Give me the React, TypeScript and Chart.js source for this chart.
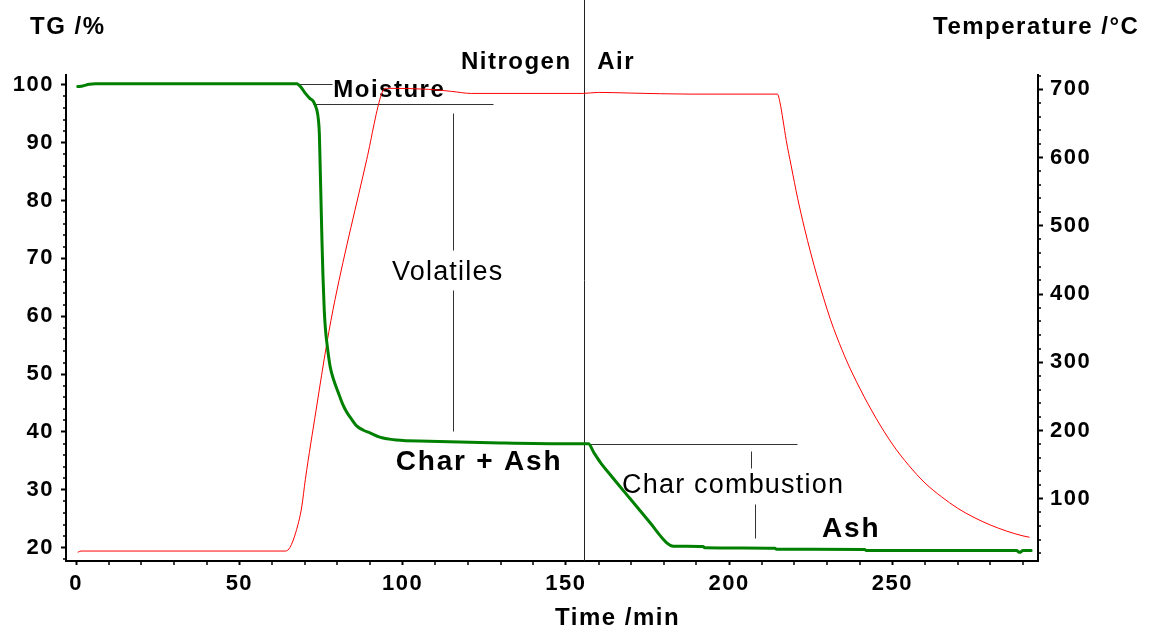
import React, { useEffect, useRef } from 'react';
import { Chart, registerables } from 'chart.js';

Chart.register(...registerables);

// ---- Data ----
const TG_TIME = [
  0.5, 2, 4, 6, 62, 67.6, 69, 70.1, 71.5, 72.7, 73.7, 74.2, 74.5, 74.7, 75.0, 75.3, 75.6, 76.0,
  76.4, 76.8, 77.8, 79, 80.3, 81.5, 82.9, 84.5, 86, 88, 90, 93, 98, 108, 130, 151, 156.9, 158.5,
  160.5, 163.6, 169.7, 175.8, 180.9, 182.9, 192, 192.5, 214, 214.5, 241.5, 242, 288, 289, 290, 292.5,
];
const TG_VALUES = [
  99.7, 99.8, 100.1, 100.2, 100.2, 100.2, 99.5, 98.6, 97.7, 97.1, 95.7, 94, 91.5, 87, 80, 73, 67, 61,
  57.5, 55.4, 51.3, 48.8, 46.8, 45, 43.4, 42.1, 41.0, 40.3, 39.85, 39.1, 38.6, 38.4, 38.1, 37.95, 37.95, 36.5,
  34.8, 32.6, 28.45, 24.3, 20.85, 20.27, 20.2, 20.0, 19.9, 19.75, 19.7, 19.5, 19.5, 19.2, 19.5, 19.5,
];

const TEMP_TIME = [
  0.5, 1.5, 64.2, 65.5, 67.3, 69.1, 70.2, 73.5, 76.8, 79.3, 89, 93.6, 95, 108, 115, 121, 155, 160, 170,
  188, 214.8, 215.6, 216.5, 217.5, 219, 221, 223, 225, 227, 229, 231, 233, 236, 240, 245, 250, 255,
  260, 265, 270, 275, 280, 285, 290, 292,
];
const TEMP_VALUES = [
  21.5, 23.3, 23.3, 28.7, 51, 88, 128, 230, 328, 392, 597, 694, 701.5, 700, 697, 694, 694, 695.5, 694.5,
  693, 693, 680, 655, 625, 588, 540, 498, 460, 425, 393, 363, 337, 302, 262, 218, 180, 149,
  123, 103, 86, 72.5, 61.5, 52.5, 45.5, 43.5,
];

const X_MAJOR_TICKS = [0, 50, 100, 150, 200, 250];
const X_MINOR_TICKS = [10, 20, 30, 40, 60, 70, 80, 90, 110, 120, 130, 140, 160, 170, 180, 190, 210, 220, 230, 240, 260, 270, 280, 290];
const TG_MAJOR_TICKS = [20, 30, 40, 50, 60, 70, 80, 90, 100];
const TG_MINOR_TICKS = [18, 22, 24, 26, 28, 32, 34, 36, 38, 42, 44, 46, 48, 52, 54, 56, 58, 62, 64, 66, 68, 72, 74, 76, 78, 82, 84, 86, 88, 92, 94, 96, 98];
const TEMP_MAJOR_TICKS = [100, 200, 300, 400, 500, 600, 700];
const TEMP_MINOR_TICKS = [20, 40, 60, 80, 120, 140, 160, 180, 220, 240, 260, 280, 320, 340, 360, 380, 420, 440, 460, 480, 520, 540, 560, 580, 620, 640, 660, 680, 720];

const X_RANGE = [-3.1, 294.6];
const TG_RANGE = [17.7, 101.7];
const TEMP_RANGE = [8.7, 721];

const GAS_SWITCH_TIME = 155.4;

const X_TITLE = 'Time /min';
const TG_TITLE = 'TG /%';
const TEMP_TITLE = 'Temperature /°C';

// annotation segments in data units [t1, v1, t2, v2] (TG axis)
const ANNOT_LINES = [
  [67.5, 100.2, 78.4, 100.2],
  [72.7, 96.7, 127.8, 96.7],
  [115.3, 95.2, 115.3, 71.5],
  [115.3, 64.6, 115.3, 40.1],
  [155.4, 37.95, 220.7, 37.95],
  [206.6, 36.7, 206.6, 33.8],
  [207.8, 27.5, 207.8, 21.7],
];
// annotation labels [text, t, v(baseline), style]
const ANNOT_TEXTS: [string, number, number, string][] = [
  ['Nitrogen', 134.8, 102.7, 'bold'],
  ['Air', 165.4, 102.7, 'bold'],
  ['Moisture', 95.9, 97.9, 'bold'],
  ['Volatiles', 113.8, 66.3, 'regular'],
  ['Char + Ash', 123.4, 33.5, 'big'],
  ['Char combustion', 201.2, 29.5, 'regular'],
  ['Ash', 237.4, 21.8, 'big'],
];

const FAMILY = '"Liberation Sans", Arial, sans-serif';

const STYLE_FONTS: Record<string, [string, number]> = {
  bold: [`bold 24px ${FAMILY}`, 1.5],
  regular: [`27px ${FAMILY}`, 1.2],
  big: [`bold 28px ${FAMILY}`, 1.8],
};

function drawText(ctx: any, str: string, x: number, y: number, font: string, spacing: number, align: string) {
  ctx.save();
  ctx.font = font;
  ctx.letterSpacing = spacing + 'px';
  ctx.textAlign = align;
  ctx.textBaseline = 'alphabetic';
  ctx.fillStyle = '#000';
  ctx.fillText(str, x, y);
  ctx.restore();
}

const decorPlugin = {
  id: 'decor',
  beforeDraw(chart: any) {
    chart.ctx.letterSpacing = '1.5px';
  },
  beforeDatasetsDraw(chart: any) {
    const ctx = chart.ctx;
    const xs = chart.scales.x;
    const ys = chart.scales.y;
    ctx.save();
    ctx.strokeStyle = '#333';
    ctx.lineWidth = 1;
    for (const [t1, v1, t2, v2] of ANNOT_LINES) {
      ctx.beginPath();
      ctx.moveTo(Math.round(xs.getPixelForValue(t1)) + 0.5, Math.round(ys.getPixelForValue(v1)) + 0.5);
      ctx.lineTo(Math.round(xs.getPixelForValue(t2)) + 0.5, Math.round(ys.getPixelForValue(v2)) + 0.5);
      ctx.stroke();
    }
    // gas switch line
    const gx = Math.round(xs.getPixelForValue(GAS_SWITCH_TIME)) + 0.5;
    ctx.strokeStyle = '#222';
    ctx.beginPath();
    ctx.moveTo(gx, 0);
    ctx.lineTo(gx, chart.chartArea.bottom);
    ctx.stroke();
    ctx.restore();
    for (const [str, t, v, style] of ANNOT_TEXTS) {
      const [font, sp] = STYLE_FONTS[style];
      drawText(ctx, str, xs.getPixelForValue(t), ys.getPixelForValue(v), font, sp, 'center');
    }
  },
  afterDraw(chart: any) {
    const ctx = chart.ctx;
    const xs = chart.scales.x;
    const ys = chart.scales.y;
    const y2 = chart.scales.y2;
    const area = chart.chartArea;
    ctx.save();
    ctx.strokeStyle = '#000';
    ctx.lineWidth = 1.5;
    ctx.beginPath();
    for (const t of X_MINOR_TICKS) {
      const px = Math.round(xs.getPixelForValue(t));
      ctx.moveTo(px, area.bottom);
      ctx.lineTo(px, area.bottom + 4);
    }
    for (const v of TG_MINOR_TICKS) {
      const py = Math.round(ys.getPixelForValue(v));
      ctx.moveTo(area.left, py);
      ctx.lineTo(area.left - 3, py);
    }
    for (const v of TEMP_MINOR_TICKS) {
      const py = Math.round(y2.getPixelForValue(v));
      ctx.moveTo(area.right, py);
      ctx.lineTo(area.right + 3, py);
    }
    ctx.stroke();
    ctx.restore();
    const titleFont = `bold 24px ${FAMILY}`;
    drawText(ctx, TG_TITLE, 30, 34, titleFont, 1.5, 'left');
    drawText(ctx, TEMP_TITLE, 933, 34, titleFont, 1.5, 'left');
    drawText(ctx, X_TITLE, 555, 625, titleFont, 1.5, 'left');
  },
};

export default function App() {
  const canvasRef = useRef<HTMLCanvasElement | null>(null);

  useEffect(() => {
    const canvas = canvasRef.current;
    if (!canvas) return;
    const tickFont = { family: FAMILY, size: 22, weight: 'bold' as const };
    const chart = new Chart(canvas, {
      type: 'line',
      data: {
        datasets: [
          {
            label: 'TG',
            data: TG_TIME.map((t, i) => ({ x: t, y: TG_VALUES[i] })),
            borderColor: '#008000',
            borderWidth: 3,
            borderJoinStyle: 'round',
            borderCapStyle: 'round',
            pointRadius: 0,
            cubicInterpolationMode: 'monotone',
            yAxisID: 'y',
          },
          {
            label: 'Temperature',
            data: TEMP_TIME.map((t, i) => ({ x: t, y: TEMP_VALUES[i] })),
            borderColor: '#ff0000',
            borderWidth: 1,
            pointRadius: 0,
            cubicInterpolationMode: 'monotone',
            yAxisID: 'y2',
          },
        ],
      },
      options: {
        responsive: false,
        animation: false,
        devicePixelRatio: 1,
        layout: { padding: { top: 75, left: 0, right: 0, bottom: 0 } },
        plugins: { legend: { display: false }, tooltip: { enabled: false }, title: { display: false } },
        scales: {
          x: {
            type: 'linear',
            position: 'bottom',
            min: X_RANGE[0],
            max: X_RANGE[1],
            afterBuildTicks: (s: any) => { s.ticks = X_MAJOR_TICKS.map((v) => ({ value: v })); },
            afterFit: (s: any) => { s.height = 69; },
            ticks: { font: tickFont, color: '#000', padding: 6, maxRotation: 0, autoSkip: false },
            grid: { drawOnChartArea: false, drawTicks: true, tickLength: 4, tickWidth: 2, tickColor: '#000' },
            border: { display: true, color: '#000', width: 2 },
          },
          y: {
            type: 'linear',
            position: 'left',
            min: TG_RANGE[0],
            max: TG_RANGE[1],
            afterBuildTicks: (s: any) => { s.ticks = TG_MAJOR_TICKS.map((v) => ({ value: v })); },
            afterFit: (s: any) => { s.width = 66; },
            ticks: { font: tickFont, color: '#000', padding: 7, autoSkip: false },
            grid: { drawOnChartArea: false, drawTicks: true, tickLength: 5, tickWidth: 2, tickColor: '#000' },
            border: { display: true, color: '#000', width: 2 },
          },
          y2: {
            type: 'linear',
            position: 'right',
            min: TEMP_RANGE[0],
            max: TEMP_RANGE[1],
            afterBuildTicks: (s: any) => { s.ticks = TEMP_MAJOR_TICKS.map((v) => ({ value: v })); },
            afterFit: (s: any) => { s.width = 116; },
            ticks: { font: tickFont, color: '#000', padding: 7, autoSkip: false },
            grid: { drawOnChartArea: false, drawTicks: true, tickLength: 5, tickWidth: 2, tickColor: '#000' },
            border: { display: true, color: '#000', width: 2 },
          },
        },
      },
      plugins: [decorPlugin],
    } as any);
    return () => chart.destroy();
  }, []);

  return (
    <div style={{ position: 'absolute', left: 0, top: 0, width: 1154, height: 630, background: '#fff' }}>
      <canvas ref={canvasRef} width={1154} height={630} style={{ display: 'block' }} />
    </div>
  );
}
